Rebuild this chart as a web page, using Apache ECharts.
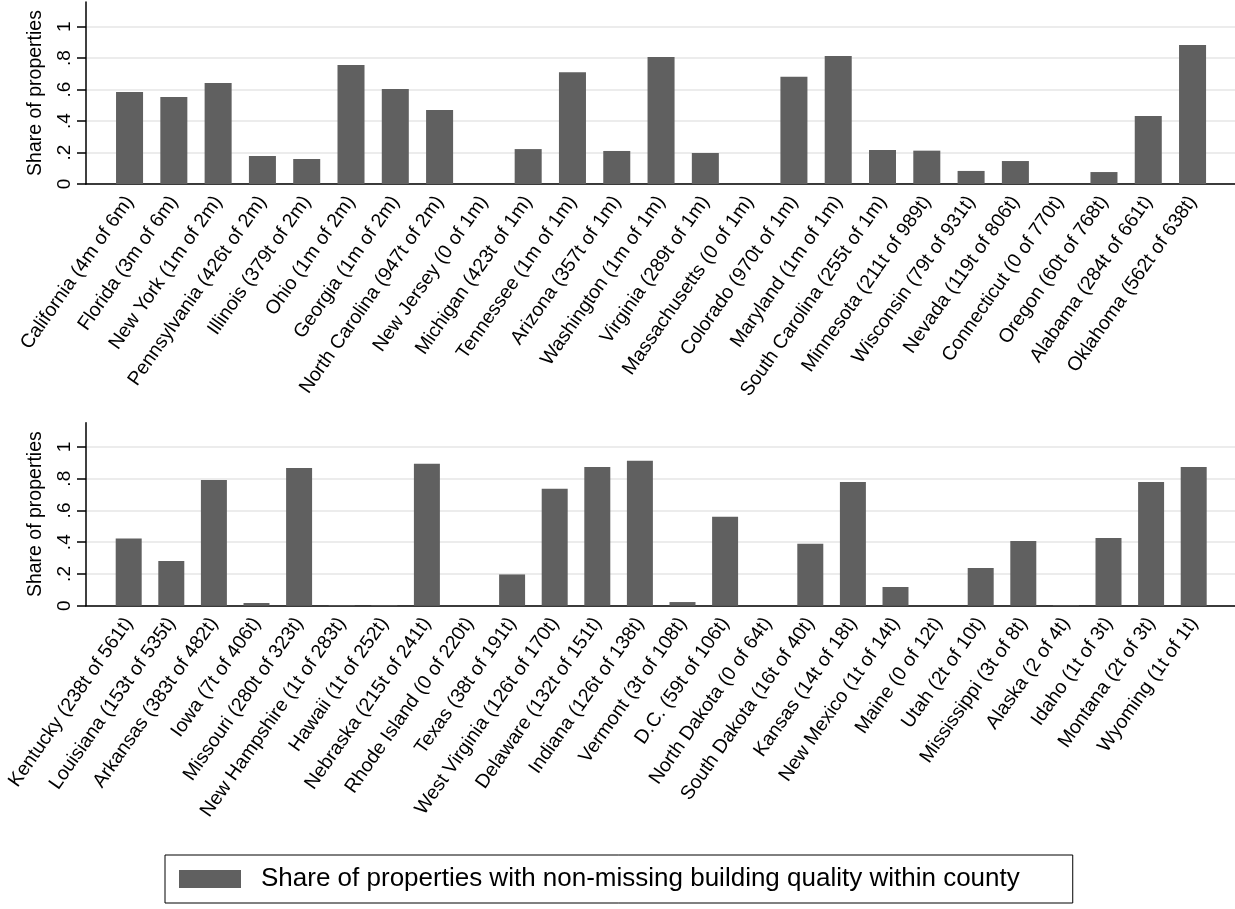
<!DOCTYPE html>
<html>
<head>
<meta charset="utf-8">
<script src="https://cdn.jsdelivr.net/npm/echarts@6/dist/echarts.min.js"></script>
<style>
  html, body { margin: 0; padding: 0; background: #ffffff; }
  #chart { width: 1235px; height: 909px; }
</style>
</head>
<body>
<div id="chart"></div>
<script>
// States ordered by number of properties, first panel
const statesTop = [
  'California (4m of 6m)', 'Florida (3m of 6m)', 'New York (1m of 2m)', 'Pennsylvania (426t of 2m)',
  'Illinois (379t of 2m)', 'Ohio (1m of 2m)', 'Georgia (1m of 2m)', 'North Carolina (947t of 2m)',
  'New Jersey (0 of 1m)', 'Michigan (423t of 1m)', 'Tennessee (1m of 1m)', 'Arizona (357t of 1m)',
  'Washington (1m of 1m)', 'Virginia (289t of 1m)', 'Massachusetts (0 of 1m)', 'Colorado (970t of 1m)',
  'Maryland (1m of 1m)', 'South Carolina (255t of 1m)', 'Minnesota (211t of 989t)', 'Wisconsin (79t of 931t)',
  'Nevada (119t of 806t)', 'Connecticut (0 of 770t)', 'Oregon (60t of 768t)', 'Alabama (284t of 661t)',
  'Oklahoma (562t of 638t)'
];
const shareTop = [
  0.585, 0.553, 0.642, 0.178, 0.159, 0.757, 0.604, 0.470, 0, 0.222, 0.710, 0.210,
  0.807, 0.197, 0, 0.682, 0.814, 0.216, 0.212, 0.083, 0.146, 0, 0.076, 0.432, 0.884
];

// Second panel
const statesBottom = [
  'Kentucky (238t of 561t)', 'Louisiana (153t of 535t)', 'Arkansas (383t of 482t)', 'Iowa (7t of 406t)',
  'Missouri (280t of 323t)', 'New Hampshire (1t of 283t)', 'Hawaii (1t of 252t)', 'Nebraska (215t of 241t)',
  'Rhode Island (0 of 220t)', 'Texas (38t of 191t)', 'West Virginia (126t of 170t)', 'Delaware (132t of 151t)',
  'Indiana (126t of 138t)', 'Vermont (3t of 108t)', 'D.C. (59t of 106t)', 'North Dakota (0 of 64t)',
  'South Dakota (16t of 40t)', 'Kansas (14t of 18t)', 'New Mexico (1t of 14t)', 'Maine (0 of 12t)',
  'Utah (2t of 10t)', 'Mississippi (3t of 8t)', 'Alaska (2 of 4t)', 'Idaho (1t of 3t)',
  'Montana (2t of 3t)', 'Wyoming (1t of 1t)'
];
const shareBottom = [
  0.424, 0.282, 0.792, 0.017, 0.868, 0.004, 0.004, 0.895, 0, 0.197, 0.737, 0.874,
  0.914, 0.023, 0.561, 0, 0.391, 0.779, 0.118, 0, 0.237, 0.408, 0.004, 0.426,
  0.779, 0.874
];

const yTicks = [0, 0.2, 0.4, 0.6, 0.8, 1];
const yTitle = 'Share of properties';
const seriesName = 'Share of properties with non-missing building quality within county';

const FONT = '"Liberation Sans", Arial, Helvetica, sans-serif';
const BAR_COLOR = '#606060';
const GRID_COLOR = '#e6e6e6';
const Y_MAX_TOP = 1.157;
const Y_MAX_BOTTOM = 1.153;

// Stata-style tick labels: 0, .2, .4, ..., 1
function tickLabel(v) {
  const s = (Math.round(v * 10) / 10).toFixed(1);
  if (s === '0.0') return '0';
  if (s === '1.0') return '1';
  return s.replace(/^0/, '');
}

function frameAxes(gridIndex, yMax) {
  const line = { show: true, onZero: false, lineStyle: { color: '#000', width: 1.5 } };
  return {
    x: {
      type: 'value', gridIndex, min: 0, max: 1,
      axisLine: line, axisTick: { show: false }, axisLabel: { show: false }, splitLine: { show: false }
    },
    y: {
      type: 'value', gridIndex, min: 0, max: yMax,
      axisLine: line,
      axisTick: { show: true, length: 9, customValues: yTicks, lineStyle: { color: '#000', width: 1.5 } },
      axisLabel: {
        customValues: yTicks, rotate: 90, margin: 12, fontSize: 19, color: '#000',
        fontFamily: FONT, formatter: tickLabel
      },
      splitLine: { show: true, lineStyle: { color: GRID_COLOR, width: 1.5 } },
      name: yTitle, nameLocation: 'middle', nameRotate: 90, nameGap: 40,
      nameTextStyle: { fontSize: 19.5, color: '#000', fontFamily: FONT }
    }
  };
}

function barAxes(gridIndex, cats, yMax) {
  return {
    x: {
      type: 'category', gridIndex, data: cats,
      axisLine: { show: false }, axisTick: { show: false },
      axisLabel: { interval: 0, rotate: 55, margin: 14, fontSize: 19.5, color: '#000', fontFamily: FONT }
    },
    y: { type: 'value', gridIndex, min: 0, max: yMax, show: false, splitLine: { show: false } }
  };
}

const fTop = frameAxes(0, Y_MAX_TOP);
const bTop = barAxes(1, statesTop, Y_MAX_TOP);
const fBot = frameAxes(2, Y_MAX_BOTTOM);
const bBot = barAxes(3, statesBottom, Y_MAX_BOTTOM);

const chart = echarts.init(document.getElementById('chart'), null, { renderer: 'canvas' });
chart.setOption({
  animation: false,
  backgroundColor: '#ffffff',
  textStyle: { fontFamily: FONT },
  grid: [
    { left: 86, top: 2, width: 1149, height: 182 },
    { left: 107.4, top: 2, width: 1107.3, height: 182 },
    { left: 86, top: 422.7, width: 1149, height: 183 },
    { left: 107.4, top: 422.7, width: 1107.6, height: 183 }
  ],
  xAxis: [fTop.x, bTop.x, fBot.x, bBot.x],
  yAxis: [fTop.y, bTop.y, fBot.y, bBot.y],
  legend: {
    data: [seriesName],
    left: 165, top: 855,
    itemWidth: 62, itemHeight: 18, icon: 'rect',
    padding: [11, 53, 11, 14],
    borderColor: '#000', borderWidth: 1,
    selectedMode: false,
    textStyle: { fontSize: 26, color: '#000', fontFamily: FONT, padding: [0, 0, 0, 15] }
  },
  series: [
    {
      name: seriesName, type: 'bar', xAxisIndex: 1, yAxisIndex: 1,
      data: shareTop, barWidth: '61%', itemStyle: { color: BAR_COLOR }
    },
    {
      name: seriesName, type: 'bar', xAxisIndex: 3, yAxisIndex: 3,
      data: shareBottom, barWidth: '61%', itemStyle: { color: BAR_COLOR }
    }
  ]
});
</script>
</body>
</html>
